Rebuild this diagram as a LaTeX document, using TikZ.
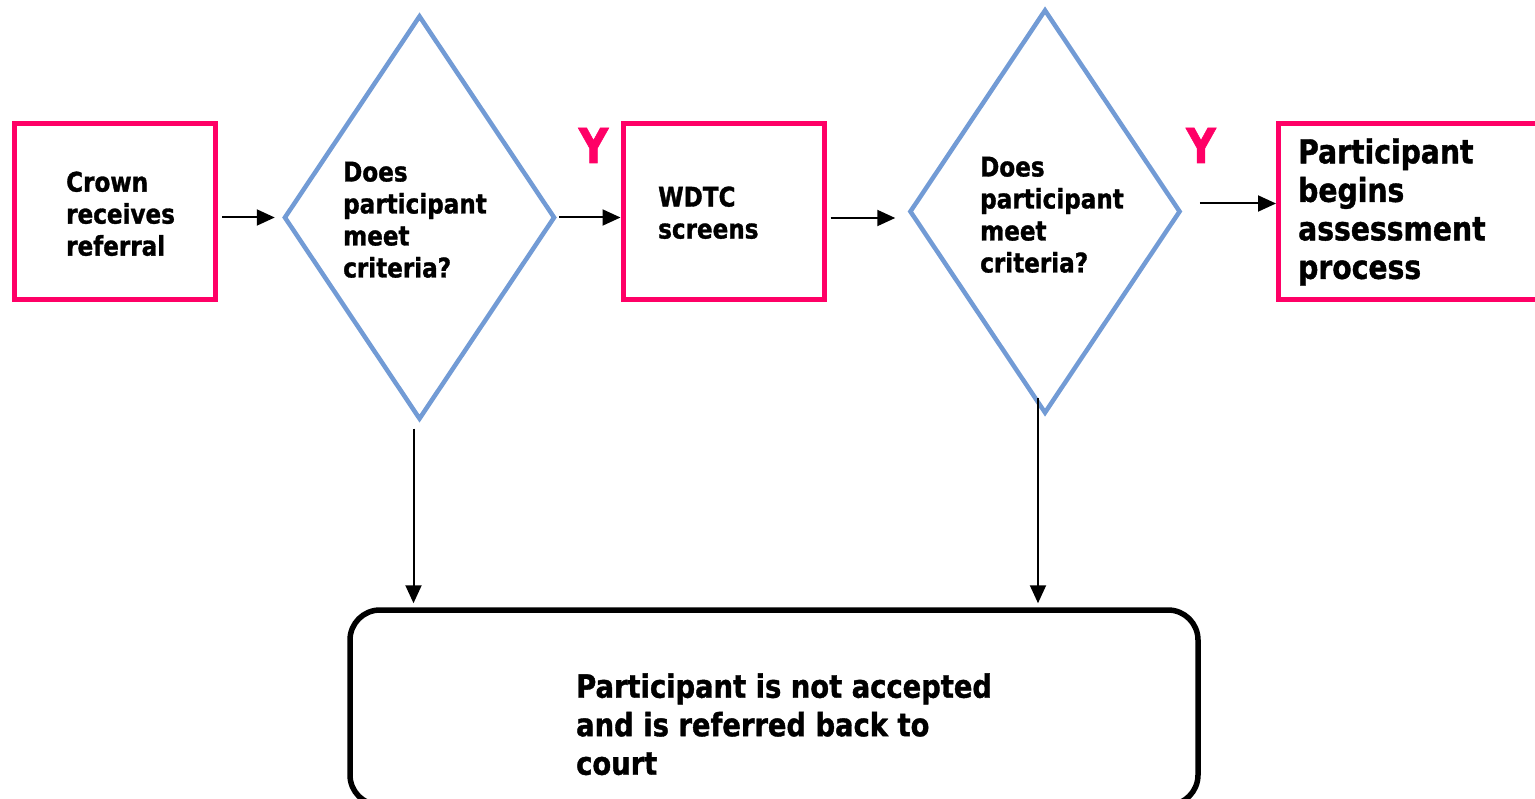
\documentclass[tikz,border=0pt]{standalone}
\usepackage{fontspec}
\setmainfont{DejaVu Sans}[FakeStretch=0.855,BoldFeatures={FakeBold=1.2}]
\usepackage{xcolor}
\usetikzlibrary{shapes.geometric}
\usetikzlibrary{arrows.meta}
\definecolor{flowpink}{RGB}{255,0,102}
\definecolor{flowblue}{RGB}{114,155,213}

\begin{document}
\begin{tikzpicture}[x=1pt,y=-1pt,
	pinkbox/.style={draw=flowpink,line width=5pt,minimum width=201pt,minimum height=176pt,inner sep=0pt},
	query/.style={diamond,draw=flowblue,line width=4.5pt,minimum width=271pt,minimum height=404pt,inner sep=0pt},
	flowtext/.style={anchor=west,align=left,inner sep=0pt,font=\bfseries\fontsize{27}{32}\selectfont},
	yes/.style={text=flowpink,inner sep=0pt,font=\bfseries\fontsize{48}{48}\selectfont},
	arr/.style={-{Triangle[length=18pt,width=16pt]},line width=2pt}]
	\useasboundingbox (0,0) rectangle (1535,799);
	% boxes and questions
	\node[pinkbox] (crown) at (115,211.6) {};
	\node[query] (d1) at (419.5,217.5) {};
	\node[pinkbox] (wdtc) at (723.5,212) {};
	\node[query] (d2) at (1045,211.5) {};
	\node[pinkbox,minimum width=270pt] (begin) at (1413.5,212) {};
	\node[draw,line width=5.5pt,rounded corners=30pt,minimum width=848pt,minimum height=195pt] (reject) at (774,707.5) {};
	% texts
	\node[flowtext] (crowntext) at (66,213.8) {Crown\\receives\\referral};
	\node[flowtext] (d1text) at (343,219.8) {Does\\participant\\meet\\criteria?};
	\node[flowtext] (wdtctext) at (658,212.7) {WDTC\\screens};
	\node[flowtext] (d2text) at (980,214.8) {Does\\participant\\meet\\criteria?};
	\node[flowtext,font=\bfseries\fontsize{33}{38.5}\selectfont] (begintext) at (1298,212) {Participant\\begins\\assessment\\process};
	\node[flowtext,font=\bfseries\fontsize{32}{38.5}\selectfont] (rejecttext) at (576,724.3) {Participant is not accepted\\and is referred back to\\court};
	\node[yes] (y1) at (593.5,145.5) {Y};
	\node[yes] (y2) at (1201,145.5) {Y};
	% arrows
	\draw[arr,shorten <=4pt,shorten >=7pt] (crown.east |- d1) -- (d1.west);
	\draw[arr,shorten <=2pt] (d1.east) -- (d1.east -| wdtc.west);
	\draw[arr,shorten <=4pt,shorten >=12pt] ([yshift=-6pt]wdtc.east) -- ([yshift=-6pt]wdtc.east -| d2.west);
	\draw[arr,shorten <=17pt] ([yshift=8pt]d2.east) -- ([yshift=8pt]d2.east -| begin.west);
	\draw[arr,shorten <=7pt,shorten >=4pt] ([xshift=-6pt]d1.south) -- ([xshift=-6pt]d1.south |- reject.north);
	\draw[arr,shorten <=-18pt,shorten >=4pt] ([xshift=-7pt]d2.south) -- ([xshift=-7pt]d2.south |- reject.north);
\end{tikzpicture}
\end{document}
